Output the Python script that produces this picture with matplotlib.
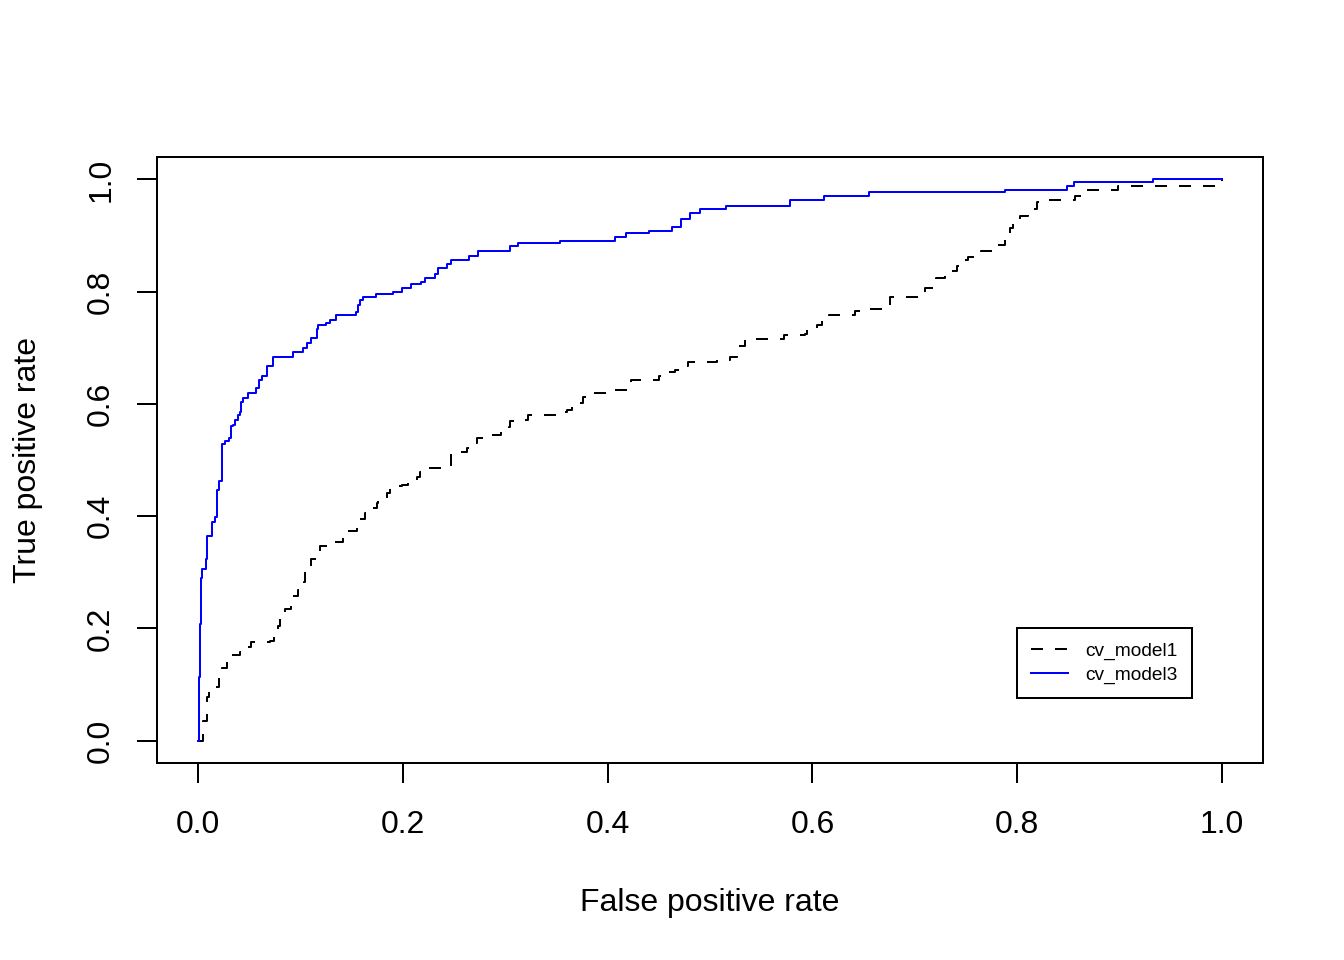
import matplotlib
matplotlib.use("Agg")
import matplotlib.pyplot as plt

plt.rcParams['font.family'] = ['Liberation Sans', 'DejaVu Sans']

# ROC curve for cv_model1 (step points)
fpr_model1 = [0.000, 0.005, 0.009, 0.011, 0.021, 0.023, 0.028, 0.033, 0.041, 0.047,
              0.052, 0.070, 0.074, 0.078, 0.080, 0.085, 0.091, 0.093, 0.098, 0.104,
              0.105, 0.110, 0.116, 0.119, 0.127, 0.142, 0.146, 0.155, 0.158, 0.163,
              0.168, 0.175, 0.176, 0.185, 0.188, 0.199, 0.205, 0.214, 0.217, 0.225,
              0.242, 0.247, 0.254, 0.263, 0.266, 0.272, 0.278, 0.290, 0.296, 0.304,
              0.305, 0.316, 0.322, 0.354, 0.360, 0.365, 0.376, 0.383, 0.400, 0.419,
              0.423, 0.450, 0.458, 0.466, 0.473, 0.479, 0.507, 0.520, 0.526, 0.527,
              0.534, 0.572, 0.593, 0.595, 0.604, 0.609, 0.616, 0.642, 0.651, 0.673,
              0.676, 0.705, 0.710, 0.718, 0.721, 0.729, 0.734, 0.741, 0.744, 0.752,
              0.765, 0.780, 0.788, 0.793, 0.796, 0.803, 0.811, 0.815, 0.819, 0.830,
              0.856, 0.863, 0.898, 0.996, 1.000]
tpr_model1 = [0.000, 0.034, 0.078, 0.096, 0.116, 0.130, 0.144, 0.152, 0.157, 0.166,
              0.175, 0.178, 0.191, 0.205, 0.223, 0.234, 0.241, 0.257, 0.269, 0.283,
              0.305, 0.323, 0.335, 0.346, 0.353, 0.364, 0.373, 0.381, 0.394, 0.406,
              0.415, 0.424, 0.433, 0.442, 0.453, 0.456, 0.460, 0.469, 0.478, 0.485,
              0.490, 0.510, 0.515, 0.522, 0.531, 0.540, 0.544, 0.545, 0.551, 0.558,
              0.569, 0.572, 0.581, 0.585, 0.590, 0.602, 0.613, 0.620, 0.624, 0.631,
              0.642, 0.649, 0.656, 0.661, 0.667, 0.674, 0.679, 0.684, 0.692, 0.704,
              0.715, 0.722, 0.724, 0.733, 0.740, 0.747, 0.758, 0.765, 0.770, 0.775,
              0.791, 0.795, 0.807, 0.816, 0.825, 0.829, 0.836, 0.845, 0.857, 0.861,
              0.873, 0.884, 0.902, 0.914, 0.929, 0.934, 0.941, 0.947, 0.959, 0.963,
              0.971, 0.982, 0.989, 0.995, 1.000]

# ROC curve for cv_model3
fpr_model3 = [0.000, 0.001, 0.002, 0.003, 0.004, 0.008, 0.009, 0.014, 0.017, 0.019,
              0.021, 0.023, 0.026, 0.030, 0.032, 0.034, 0.036, 0.039, 0.041, 0.042,
              0.044, 0.049, 0.057, 0.060, 0.063, 0.067, 0.073, 0.093, 0.103, 0.106,
              0.110, 0.116, 0.117, 0.125, 0.129, 0.135, 0.154, 0.156, 0.158, 0.161,
              0.174, 0.190, 0.199, 0.208, 0.218, 0.222, 0.231, 0.234, 0.243, 0.247,
              0.265, 0.273, 0.305, 0.313, 0.354, 0.407, 0.418, 0.440, 0.463, 0.472,
              0.480, 0.490, 0.516, 0.578, 0.611, 0.655, 0.788, 0.849, 0.855, 0.933,
              1.000]
tpr_model3 = [0.000, 0.114, 0.207, 0.289, 0.305, 0.323, 0.364, 0.389, 0.399, 0.447,
              0.462, 0.528, 0.533, 0.540, 0.560, 0.563, 0.572, 0.581, 0.586, 0.604,
              0.611, 0.619, 0.629, 0.643, 0.649, 0.667, 0.684, 0.692, 0.699, 0.709,
              0.717, 0.733, 0.740, 0.745, 0.750, 0.758, 0.763, 0.777, 0.786, 0.790,
              0.795, 0.800, 0.807, 0.813, 0.818, 0.825, 0.832, 0.843, 0.850, 0.856,
              0.863, 0.873, 0.881, 0.886, 0.891, 0.897, 0.904, 0.909, 0.916, 0.929,
              0.941, 0.947, 0.952, 0.964, 0.970, 0.977, 0.982, 0.989, 0.995, 1.000,
              1.000]

ticks = [0.0, 0.2, 0.4, 0.6, 0.8, 1.0]
tick_labels = ["0.0", "0.2", "0.4", "0.6", "0.8", "1.0"]

fig = plt.figure(figsize=(13.44, 9.6), dpi=100)
ax = fig.add_axes([157 / 1344, 1 - 763 / 960, 1106 / 1344, 606 / 960])

lw = 1.44
ax.plot(fpr_model1, tpr_model1, color='black', lw=lw, linestyle=(0, (6, 6)),
        drawstyle='steps-post', label='cv_model1')
ax.plot(fpr_model3, tpr_model3, color='#0000FF', lw=lw,
        drawstyle='steps-post', label='cv_model3')

ax.set_xlim(-0.04, 1.04)
ax.set_ylim(-0.04, 1.04)
ax.set_xticks(ticks)
ax.set_xticklabels(tick_labels)
ax.set_yticks(ticks)
ax.set_yticklabels(tick_labels, rotation=90, va='center')
ax.tick_params(axis='both', direction='out', length=14.4, width=lw,
               labelsize=23, colors='black')
ax.tick_params(axis='x', pad=19.5)
ax.tick_params(axis='y', pad=15)
for s in ax.spines.values():
    s.set_linewidth(lw)

ax.set_xlabel("False positive rate", fontsize=23)
ax.xaxis.set_label_coords(0.5, (763 - 903) / 606)
ax.xaxis.label.set_va('center')
ax.set_ylabel("True positive rate", fontsize=23)
ax.yaxis.set_label_coords((28 - 157) / 1106, 0.5)
ax.yaxis.label.set_va('center')

leg = ax.legend(loc='lower left', bbox_to_anchor=(0.7776, 0.1073), borderaxespad=0,
                fontsize=13.8, fancybox=False, edgecolor='black', framealpha=1,
                handlelength=1.9, handletextpad=0.9, labelspacing=0.3,
                borderpad=0.75)
leg.get_frame().set_linewidth(lw)

fig.savefig("out.png", dpi=100)
